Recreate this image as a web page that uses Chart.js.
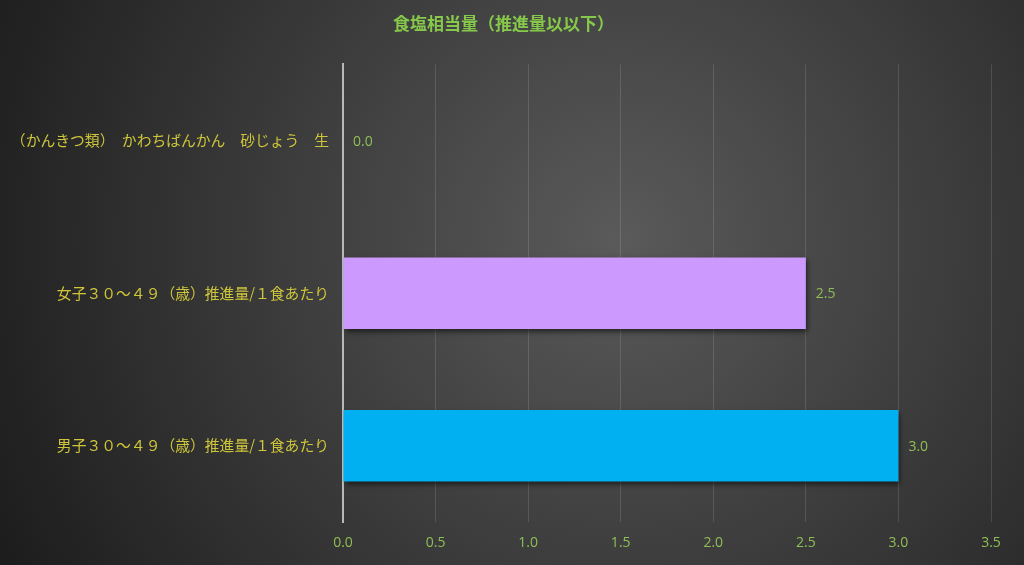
<!DOCTYPE html>
<html>
<head>
<meta charset="utf-8">
<script src="https://cdn.jsdelivr.net/npm/chart.js@4"></script>
<style>
  html, body { margin: 0; padding: 0; background: #2a2a2a; }
  #wrap { width: 1024px; height: 565px; }
</style>
</head>
<body>
<div id="wrap"><canvas id="saltChart" width="1024" height="565"></canvas></div>
<script>
// values
const categories = [
    '（かんきつ類）　かわちばんかん　砂じょう　生',
    '女子３０～４９（歳）推進量/１食あたり',
    '男子３０～４９（歳）推進量/１食あたり'
];
const saltValues = [0.0, 2.5, 3.0];
const barColors = ['#7f7f7f', '#cc99ff', '#00b0f0'];
const chartTitle = '食塩相当量（推進量以以下）';

const labelFont = '"Noto Sans CJK JP", "Noto Sans", sans-serif';
const numberFont = '"Open Sans", "Noto Sans", sans-serif';

// dark radial background behind everything
const backgroundPlugin = {
    id: 'bgGradient',
    beforeDraw: (chart) => {
        const c = chart.ctx;
        const g = c.createRadialGradient(620, 240, 0, 620, 240, 700);
        g.addColorStop(0, '#5a5a5a');
        g.addColorStop(1, '#1c1c1c');
        c.save();
        c.fillStyle = g;
        c.fillRect(0, 0, chart.width, chart.height);
        c.restore();
    }
};

// soft drop shadow under the bars
const shadowPlugin = {
    id: 'barShadow',
    beforeDatasetsDraw: (chart) => {
        const c = chart.ctx;
        c.save();
        c.shadowColor = 'rgba(0,0,0,0.55)';
        c.shadowBlur = 5;
        c.shadowOffsetX = 2;
        c.shadowOffsetY = 3;
    },
    afterDatasetsDraw: (chart) => {
        chart.ctx.restore();
    }
};

// value labels at the end of each bar
const valueLabelPlugin = {
    id: 'valueLabels',
    afterDatasetsDraw: (chart) => {
        const c = chart.ctx;
        const meta = chart.getDatasetMeta(0);
        c.save();
        c.font = '14px ' + numberFont;
        c.fillStyle = '#8fbf55';
        c.textAlign = 'left';
        c.textBaseline = 'middle';
        meta.data.forEach((bar, i) => {
            c.fillText(saltValues[i].toFixed(1), bar.x + 10, bar.y + 1);
        });
        c.restore();
    }
};

const ctx = document.getElementById('saltChart').getContext('2d');
const saltChart = new Chart(ctx, {
    type: 'bar',
    data: {
        labels: categories,
        datasets: [{
            data: saltValues,
            backgroundColor: barColors,
            borderWidth: 0,
            barPercentage: 0.7,
            categoryPercentage: 0.67
        }]
    },
    options: {
        indexAxis: 'y',
        responsive: false,
        animation: false,
        layout: { padding: { left: 16, right: 33, top: 0, bottom: 0 } },
        plugins: {
            legend: { display: false },
            tooltip: { enabled: false },
            title: {
                display: true,
                text: chartTitle,
                color: '#86c94a',
                font: { family: labelFont, size: 17, weight: 'bold' },
                padding: { top: 13, bottom: 31 }
            }
        },
        scales: {
            x: {
                min: 0,
                max: 3.5,
                ticks: {
                    stepSize: 0.5,
                    color: '#8fbf55',
                    font: { family: numberFont, size: 14 },
                    padding: 13,
                    callback: (v) => Number(v).toFixed(1)
                },
                grid: { color: 'rgba(255,255,255,0.13)', drawTicks: false },
                border: { display: false },
                afterFit: (scale) => { scale.height = 43; }
            },
            y: {
                ticks: {
                    color: '#cdc53a',
                    font: { family: labelFont, size: 14.8 },
                    padding: 6
                },
                grid: { display: false },
                border: { color: '#b8b8b8', width: 2 },
                afterFit: (scale) => { scale.width = 327; }
            }
        }
    },
    plugins: [backgroundPlugin, shadowPlugin, valueLabelPlugin]
});
</script>
</body>
</html>
